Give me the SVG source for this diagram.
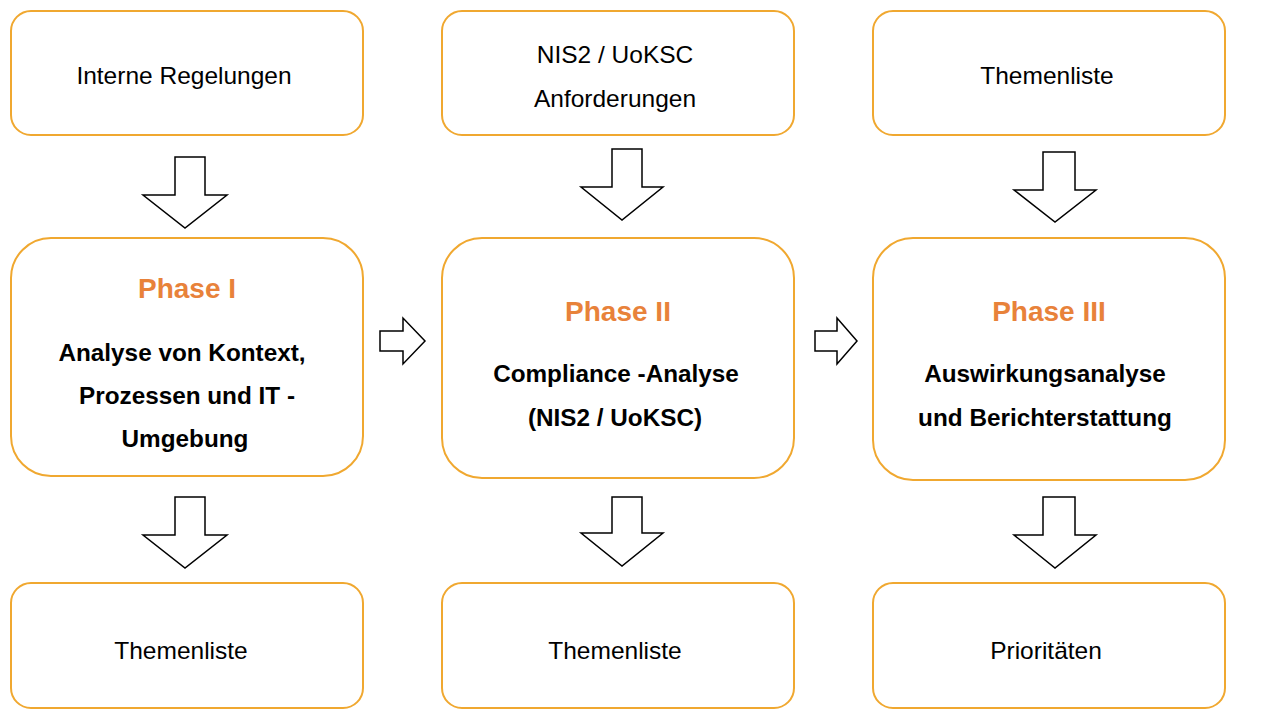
<svg xmlns="http://www.w3.org/2000/svg" width="1280" height="720" viewBox="0 0 1280 720">
<style>
.b{fill:#fff;stroke:#F0A830;stroke-width:2}
.a{fill:#fff;stroke:#000;stroke-width:1.5;stroke-linejoin:miter}
text{font-family:"Liberation Sans",Arial,sans-serif;text-anchor:middle;fill:#000}
.t{font-size:24.5px}
.h{font-size:28px;font-weight:bold;fill:#E8823A}
.s{font-size:24.3px;font-weight:bold}
</style>
<rect width="1280" height="720" fill="#fff"/>
<g id="n1"><rect class="b" x="11" y="11" width="352" height="124" rx="20"/><text class="t" x="184" y="84">Interne Regelungen</text></g>
<g id="n2"><rect class="b" x="442" y="11" width="352" height="124" rx="20"/><text class="t" x="615" y="63">NIS2 / UoKSC</text><text class="t" x="615" y="107">Anforderungen</text></g>
<g id="n3"><rect class="b" x="873" y="11" width="352" height="124" rx="20"/><text class="t" x="1047" y="84">Themenliste</text></g>
<g id="p1"><rect class="b" x="11" y="238" width="352" height="238" rx="40"/><text class="h" x="187" y="298">Phase I</text><text class="s" x="182" y="361">Analyse von Kontext,</text><text class="s" x="187" y="404">Prozessen und IT -</text><text class="s" x="185" y="447">Umgebung</text></g>
<g id="p2"><rect class="b" x="442" y="238" width="352" height="240" rx="40"/><text class="h" x="618" y="321">Phase II</text><text class="s" x="616" y="382">Compliance -Analyse</text><text class="s" x="615" y="426">(NIS2 / UoKSC)</text></g>
<g id="p3"><rect class="b" x="873" y="238" width="352" height="242" rx="40"/><text class="h" x="1049" y="321">Phase III</text><text class="s" x="1045" y="382">Auswirkungsanalyse</text><text class="s" x="1045" y="426">und Berichterstattung</text></g>
<g id="o1"><rect class="b" x="11" y="583" width="352" height="125" rx="20"/><text class="t" x="181" y="659">Themenliste</text></g>
<g id="o2"><rect class="b" x="442" y="583" width="352" height="125" rx="20"/><text class="t" x="615" y="659">Themenliste</text></g>
<g id="o3"><rect class="b" x="873" y="583" width="352" height="125" rx="20"/><text class="t" x="1046" y="659">Prioritäten</text></g>
<g id="connectors">
<path class="a" d="M175 157H205V195H227L185 228L143 195H175Z"/>
<path class="a" d="M612 149H642V187H663L622 220L581 187H612Z"/>
<path class="a" d="M1043 152H1075V190H1096L1055 222L1014 190H1043Z"/>
<path class="a" d="M175 497H205V535H227L185 568L143 535H175Z"/>
<path class="a" d="M612 497H642V533H663L622 566L581 533H612Z"/>
<path class="a" d="M1043 497H1075V535H1096L1055 568L1014 535H1043Z"/>
<path class="a" d="M380 331H403V318L425 341L403 364V351H380Z"/>
<path class="a" d="M815 331H837V318L857 341L837 364V351H815Z"/>
</g>
</svg>
